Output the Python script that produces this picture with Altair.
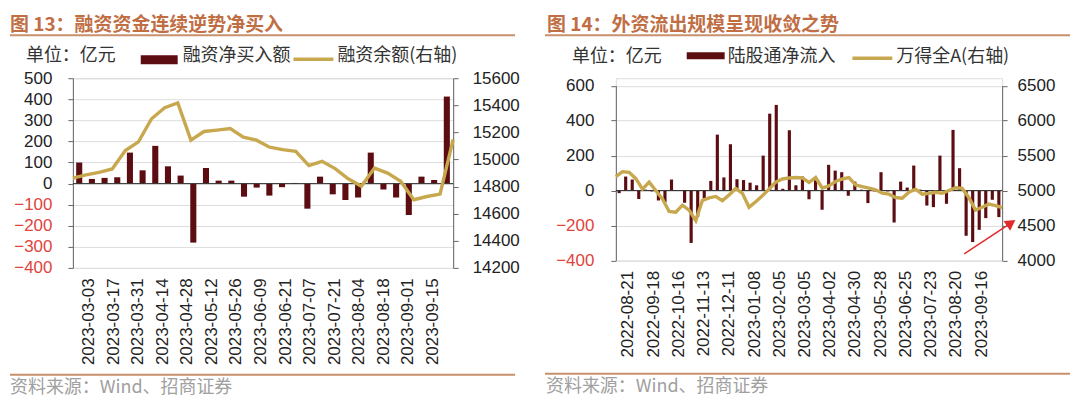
import altair as alt
import pandas as pd

# ---------------- data: chart 13 ----------------
dates1 = ["2023-03-03", "2023-03-10", "2023-03-17", "2023-03-24", "2023-03-31", "2023-04-07",
          "2023-04-14", "2023-04-21", "2023-04-28", "2023-05-05", "2023-05-12", "2023-05-19",
          "2023-05-26", "2023-06-02", "2023-06-09", "2023-06-16", "2023-06-21", "2023-06-30",
          "2023-07-07", "2023-07-14", "2023-07-21", "2023-07-28", "2023-08-04", "2023-08-11",
          "2023-08-18", "2023-08-25", "2023-09-01", "2023-09-08", "2023-09-15", "2023-09-22"]
labels1 = ["2023-03-03", "2023-03-17", "2023-03-31", "2023-04-14", "2023-04-28", "2023-05-12",
           "2023-05-26", "2023-06-09", "2023-06-21", "2023-07-07", "2023-07-21", "2023-08-04",
           "2023-08-18", "2023-09-01", "2023-09-15"]
net_buy1 = [100, 22, 27, 30, 147, 63, 179, 82, 38, -280, 74, 14, 14, -62, -19,
            -57, -17, 3, -119, 33, -51, -78, -66, 147, -28, -66, -149, 33, 17, 413]
balance1 = [14863, 14886, 14905, 14930, 15066, 15130, 15301, 15382, 15417, 15143,
            15207, 15217, 15229, 15165, 15143, 15091, 15073, 15061, 14955, 14987,
            14933, 14858, 14802, 14937, 14900, 14839, 14703, 14727, 14745, 15148]
left_ticks1 = [-400, -300, -200, -100, 0, 100, 200, 300, 400, 500]
right_ticks1 = [14200, 14400, 14600, 14800, 15000, 15200, 15400, 15600]

# ---------------- data: chart 14 ----------------
dates2 = ["2022-08-21", "2022-08-28", "2022-09-04", "2022-09-11", "2022-09-18", "2022-09-25",
          "2022-10-02", "2022-10-09", "2022-10-16", "2022-10-23", "2022-10-30", "2022-11-06",
          "2022-11-13", "2022-11-20", "2022-11-27", "2022-12-04", "2022-12-11", "2022-12-18",
          "2022-12-25", "2023-01-01", "2023-01-08", "2023-01-15", "2023-01-22", "2023-01-29",
          "2023-02-05", "2023-02-12", "2023-02-19", "2023-02-26", "2023-03-05", "2023-03-12",
          "2023-03-19", "2023-03-26", "2023-04-02", "2023-04-09", "2023-04-16", "2023-04-23",
          "2023-04-30", "2023-05-07", "2023-05-14", "2023-05-21", "2023-05-28", "2023-06-04",
          "2023-06-11", "2023-06-18", "2023-06-25", "2023-07-02", "2023-07-09", "2023-07-16",
          "2023-07-23", "2023-07-30", "2023-08-06", "2023-08-13", "2023-08-20", "2023-08-27",
          "2023-09-03", "2023-09-10", "2023-09-16", "2023-09-17", "2023-09-18"]
labels2 = ["2022-08-21", "2022-09-18", "2022-10-16", "2022-11-13", "2022-12-11", "2023-01-08",
           "2023-02-05", "2023-03-05", "2023-04-02", "2023-04-30", "2023-05-28", "2023-06-25",
           "2023-07-23", "2023-08-20", "2023-09-16"]
inflow2 = [-15, 80, 63, -48, 5, -5, -57, -67, 63, 0, -70, -300, -150, -45, 55,
           320, 75, 265, 65, 60, 45, 30, 200, 440, 490, 10, 345, 30, 80, -50,
           60, -110, 147, 114, 105, -30, 51, 5, -72, -5, 105, -5, -183, 51, 17,
           143, 5, -86, -95, 200, -76, 347, 128, -259, -295, -225, -158, -53, -152]
wind_a2 = [5200, 5270, 5260, 5170, 5020, 5120, 5000, 4880, 4700, 4690,
           4790, 4720, 4570, 4860, 4895, 4915, 4855, 4935, 5030, 4960,
           4760, 4840, 4925, 5020, 5120, 5165, 5180, 5186, 5180, 5115,
           5186, 5033, 5067, 5129, 5165, 5185, 5080, 5057, 5033, 5010,
           4962, 4948, 4900, 4890, 4975, 5020, 4948, 4960, 4975, 4960,
           5000, 5040, 5030, 4900, 4720, 4760, 4805, 4785, 4757]
left_ticks2 = [-400, -200, 0, 200, 400, 600]
right_ticks2 = [4000, 4500, 5000, 5500, 6000, 6500]

# ---------------- styles ----------------
BAR = "#5c0d12"
GOLD = "#c8a84e"
TITLE_C = "#c06e44"
RULE_C = "#c8916c"
NEG_C = "#e0443c"
CJK = "Noto Sans CJK SC"
NUM = "Liberation Sans"
ONE = alt.Data(values=[{}])


def txt(s, x, y, size=18, color="#333333", weight="normal", baseline="middle"):
    return alt.Chart(ONE).mark_text(text=s, align="left", baseline=baseline, fontSize=size,
                                    color=color, font=CJK, fontWeight=weight).encode(
        x=alt.value(x), y=alt.value(y))


def hline(x, x2, y, color, width):
    return alt.Chart(ONE).mark_rule(color=color, strokeWidth=width).encode(
        x=alt.value(x), x2=alt.value(x2), y=alt.value(y), y2=alt.value(y))


def box(x, x2, y, y2, color):
    return alt.Chart(ONE).mark_rect(color=color).encode(
        x=alt.value(x), x2=alt.value(x2), y=alt.value(y), y2=alt.value(y2))


def panel(df, labels, lticks, rticks, ldom, rdom, width, height, yrange, lpad, rpad, xpad,
          xlab_range, title, leg_bar, leg_line, pos, extra=()):
    base = alt.Chart(df)
    yscale_kw = dict(nice=False, zero=False)
    if yrange is not None:
        yscale_kw["range"] = yrange
    lscale = alt.Scale(domain=ldom, **yscale_kw)
    laxis = alt.Axis(values=lticks, tickSize=5, labelPadding=lpad, labelFontSize=17,
                     labelFont=NUM, domainColor="#666666", tickColor="#666666",
                     labelOverlap=False, format="d",
                     labelColor={"expr": f"datum.value < 0 ? '{NEG_C}' : '#222222'"})
    bars = base.mark_bar(color=BAR).encode(
        x=alt.X("date:N", sort=None, title=None,
                scale=alt.Scale(paddingInner=0.52, paddingOuter=0.26), axis=None),
        y=alt.Y("bar:Q", title=None, scale=lscale, axis=laxis),
    )
    zero = alt.Chart(ONE).mark_rule(color="#333333", strokeWidth=1).encode(
        y=alt.YDatum(0, scale=lscale, axis=laxis, title=None))
    line = base.mark_line(color=GOLD, strokeWidth=3.4).encode(
        x=alt.X("date:N", sort=None, title=None,
                scale=alt.Scale(type="point", padding=0), axis=None),
        y=alt.Y("line:Q", title=None, scale=alt.Scale(domain=rdom, **yscale_kw),
                axis=alt.Axis(orient="right", values=rticks, tickSize=5, labelPadding=rpad,
                              labelFontSize=17, labelFont=NUM, labelColor="#222222",
                              labelOverlap=False, format="d",
                              domainColor="#666666", tickColor="#666666")),
    )
    # category labels of the date axis (every 2nd / 4th week as in the source)
    xlabels = alt.Chart(pd.DataFrame({"lab": labels})).mark_point(opacity=0).encode(
        x=alt.X("lab:N", sort=None, title=None,
                scale=alt.Scale(type="point", padding=0, range=xlab_range),
                axis=alt.Axis(labelAngle=-90, ticks=False, domain=False, labelPadding=xpad,
                              labelOverlap=False, labelFontSize=17, labelFont=NUM,
                              labelColor="#222222")),
    )
    p = pos
    layers = [
        alt.layer(bars, zero),
        line,
        xlabels,
        txt(title, p["tx"], -62, size=19, color=TITLE_C, weight="bold", baseline="top"),
        hline(p["ux0"], p["ux1"], -43, RULE_C, 2),
        txt("单位：亿元", p["unit"], p["ly"]),
        box(p["bx0"], p["bx1"], p["by0"], p["by1"], BAR),
        txt(leg_bar, p["bt"], p["ly"]),
        hline(p["lx0"], p["lx1"], p["lly"], GOLD, 3.5),
        txt(leg_line, p["lt"], p["ly"]),
        hline(p["ux0"], p["ux1"], p["foot"], RULE_C, 2),
        txt("资料来源：Wind、招商证券", p["src"], p["foot"] + 13, size=18, color="#a0a0a0"),
    ] + list(extra)
    return alt.layer(*layers).resolve_scale(x="independent", y="independent").properties(
        width=width, height=height)


df1 = pd.DataFrame({"date": dates1, "bar": net_buy1, "line": balance1})
df2 = pd.DataFrame({"date": dates2, "bar": inflow2, "line": wind_a2})

pos1 = dict(tx=-63, ux0=-63, ux1=443, unit=-47, ly=-22, bx0=68, bx1=105, by0=-23, by1=-14,
            bt=110, lx0=221, lx1=261, lly=-19, lt=265, foot=297, src=-63)
pos2 = dict(tx=-69, ux0=-71, ux1=455, unit=-44, ly=-21, bx0=71, bx1=109, by0=-26, by1=-19,
            bt=112, lx0=237, lx1=277, lly=-20, lt=281, foot=296, src=-70)

RED = "#e02b2b"
arrow = [
    alt.Chart(ONE).mark_rule(color=RED, strokeWidth=1.5).encode(
        x=alt.value(349), y=alt.value(176), x2=alt.value(393), y2=alt.value(147)),
    alt.Chart(ONE).mark_point(shape="triangle-up", filled=True, size=140, angle=56,
                              color=RED, opacity=1).encode(x=alt.value(396), y=alt.value(145)),
]

left = panel(df1, labels1, left_ticks1, right_ticks1, [-400, 500], [14200, 15600],
             381, 190, None, 16, 14, 10, [16, 360],
             "图 13：融资资金连续逆势净买入", "融资净买入额", "融资余额(右轴)", pos1)
right = panel(df2, labels2, left_ticks2, right_ticks2, [-400, 600], [4000, 6500],
              387, 182.5, [182.5, 7.5], 17, 10, 10, [12, 366],
              "图 14：外资流出规模呈现收敛之势", "陆股通净流入", "万得全A(右轴)", pos2, arrow)

chart = alt.hconcat(left, right, spacing=163, bounds="flush",
                    padding={"left": 0, "top": 7, "right": 0, "bottom": 0}).configure_view(
    stroke=None).configure_axis(grid=False).configure(background="white")

chart.save("out.html", embed_options={"renderer": "svg", "actions": False})
